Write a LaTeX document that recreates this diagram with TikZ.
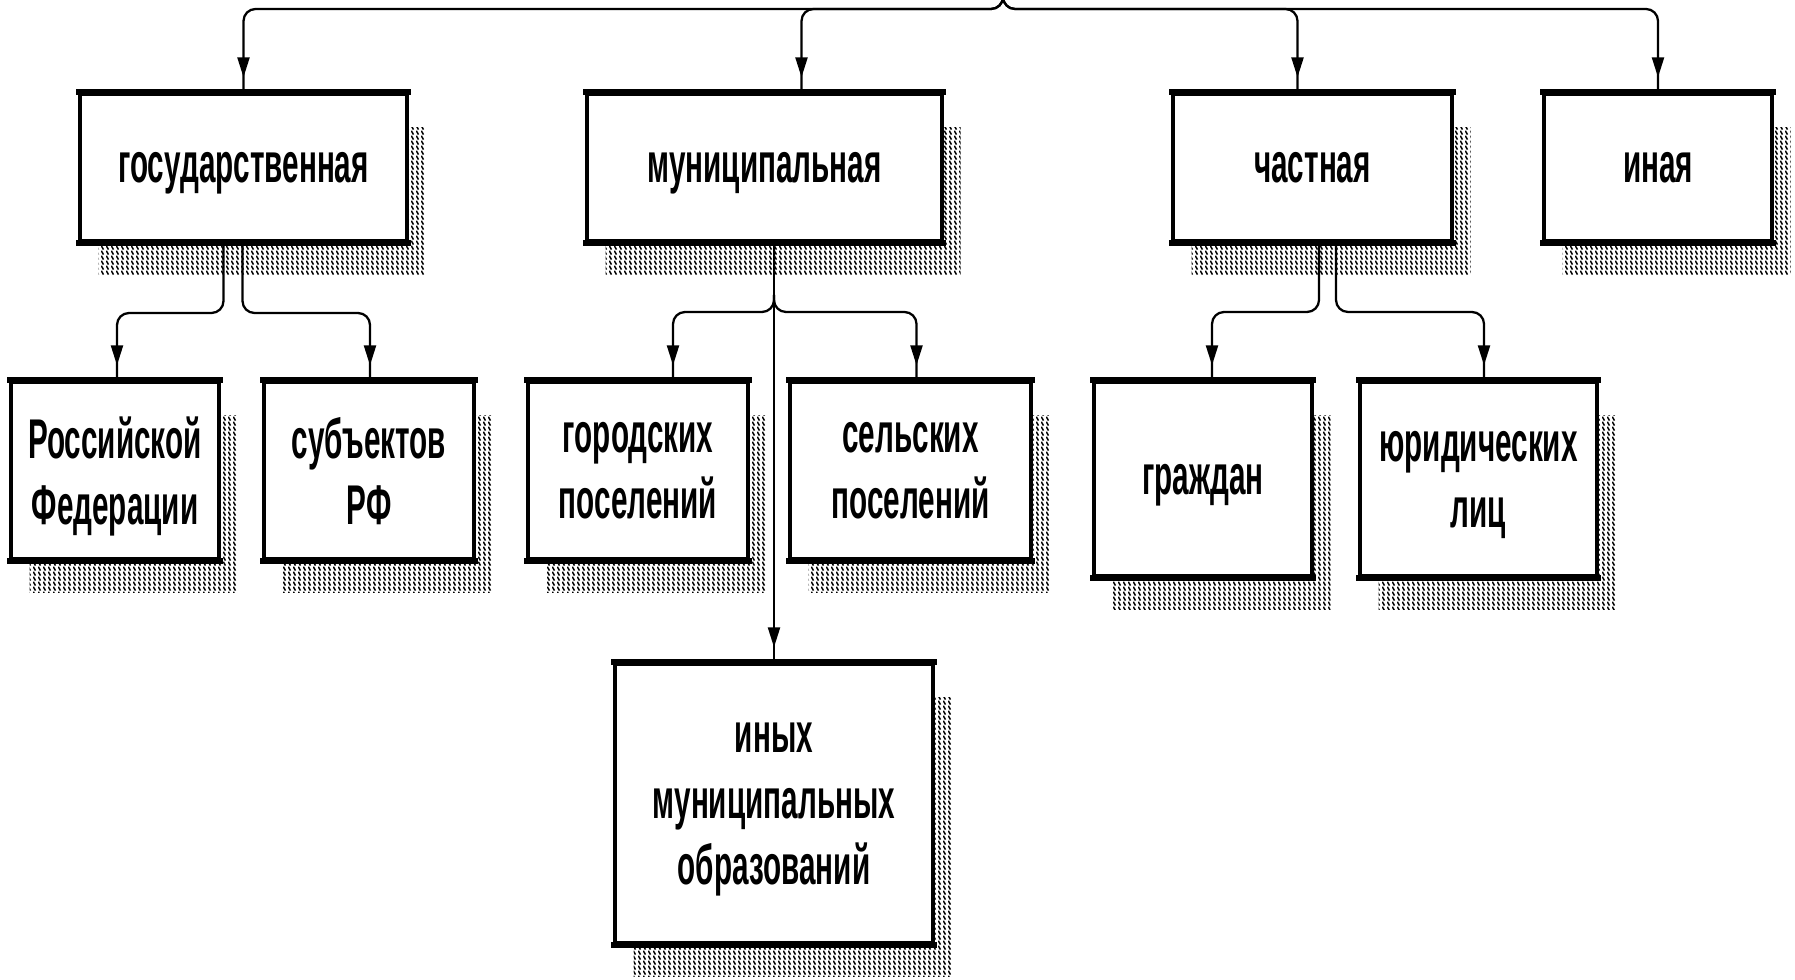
\documentclass[tikz,border=0pt]{standalone}
\usepackage{fontspec}
\newfontfamily\lbl{Liberation Sans}[FakeStretch=0.53]
\usetikzlibrary{arrows.meta,decorations.markings,shadows,patterns,calc}
\pgfdeclarepatternformonly{shadowhatch}{\pgfpointorigin}{\pgfpoint{3.6pt}{3.6pt}}{\pgfpoint{3.6pt}{3.6pt}}{%
  \pgfsetlinewidth{1.15pt}%
  \pgfpathmoveto{\pgfpoint{0.3pt}{3.3pt}}%
  \pgfpathlineto{\pgfpoint{1.9pt}{0.3pt}}%
  \pgfusepath{stroke}}
\begin{document}
\begin{tikzpicture}[x=0.75pt,y=-0.75pt,
  box/.style={draw, fill=white, line width=3pt, inner sep=0pt, align=center, text depth=0pt,
    font=\lbl\bfseries\fontsize{42pt}{49.5pt}\selectfont,
    general shadow={shadow xshift=14pt, shadow yshift=-25pt, draw=none, pattern=shadowhatch, pattern color=black},
    append after command={
      (\tikzlastnode.north west) edge[line width=5pt, shorten <=-1.5pt, shorten >=-1.5pt] (\tikzlastnode.north east)
      (\tikzlastnode.south west) edge[line width=5pt, shorten <=-1.5pt, shorten >=-1.5pt] (\tikzlastnode.south east)}},
  conn/.style={line width=1.7pt, rounded corners=9pt,
    postaction={decorate, decoration={markings,
      mark=at position -11pt with {\arrow{Triangle[length=15pt,width=9pt]}}}}}]
\useasboundingbox[fill=white] (0,0) rectangle (1795,980);

% top row
\node[box, minimum width=245.25pt, minimum height=110.25pt] (gos) at (243.5,167.5) {государственная};
\node[box, minimum width=266.25pt, minimum height=110.25pt] (mun) at (764.5,167.5) {муниципальная};
\node[box, minimum width=209.25pt, minimum height=110.25pt] (chast) at (1312.5,167.5) {частная};
\node[box, minimum width=171pt, minimum height=110.25pt] (inaya) at (1658,167.5) {иная};

% second row
\node[box, minimum width=156pt, minimum height=132.75pt] (rf) at (115,470.5) {Российской\\Федерации};
\node[box, minimum width=157.5pt, minimum height=132.75pt] (subj) at (369,470.5) {субъектов\\РФ};
\node[box, minimum width=165pt, minimum height=132.75pt] (gor) at (638,470.5) {городских\\поселений};
\node[box, minimum width=180.75pt, minimum height=132.75pt] (sel) at (910.5,470.5) {сельских\\поселений};
\node[box, minimum width=163.5pt, minimum height=145.5pt] (grazh) at (1203,479) {граждан};
\node[box, minimum width=177.75pt, minimum height=145.5pt] (yur) at (1478.5,479) {юридических\\лиц};

% third row
\node[box, minimum width=238.5pt, minimum height=209.25pt] (inyh) at (774,803.5) {иных\\муниципальных\\образований};

% top bus
\coordinate (src) at (1003,-4);
\draw[conn] (src) -- ++(0,13) -| (gos.north);
\draw[conn] (src) -- ++(0,13) -| ($(mun.north)+(37,0)$);
\draw[conn] (src) -- ++(0,13) -| ($(chast.north)+(-15,0)$);
\draw[conn] (src) -- ++(0,13) -| (inaya.north);

% state branches
\draw[conn] ($(gos.south)+(-20,0)$) -- ++(0,70) -| ($(rf.north)+(2,0)$);
\draw[conn] ($(gos.south)+(-1,0)$) -- ++(0,70) -| ($(subj.north)+(1,0)$);

% municipal branches
\draw[conn] (mun.south -| inyh.north) -- (inyh.north);
\draw[conn] ($(mun.south -| inyh.north)+(0,52)$) -- ++(0,17) -| ($(gor.north)+(35,0)$);
\draw[conn] ($(mun.south -| inyh.north)+(0,52)$) -- ++(0,17) -| ($(sel.north)+(6,0)$);

% private branches
\draw[conn] ($(chast.south)+(6.5,0)$) -- ++(0,69) -| ($(grazh.north)+(9,0)$);
\draw[conn] ($(chast.south)+(23.5,0)$) -- ++(0,69) -| ($(yur.north)+(5.5,0)$);
\end{tikzpicture}
\end{document}
